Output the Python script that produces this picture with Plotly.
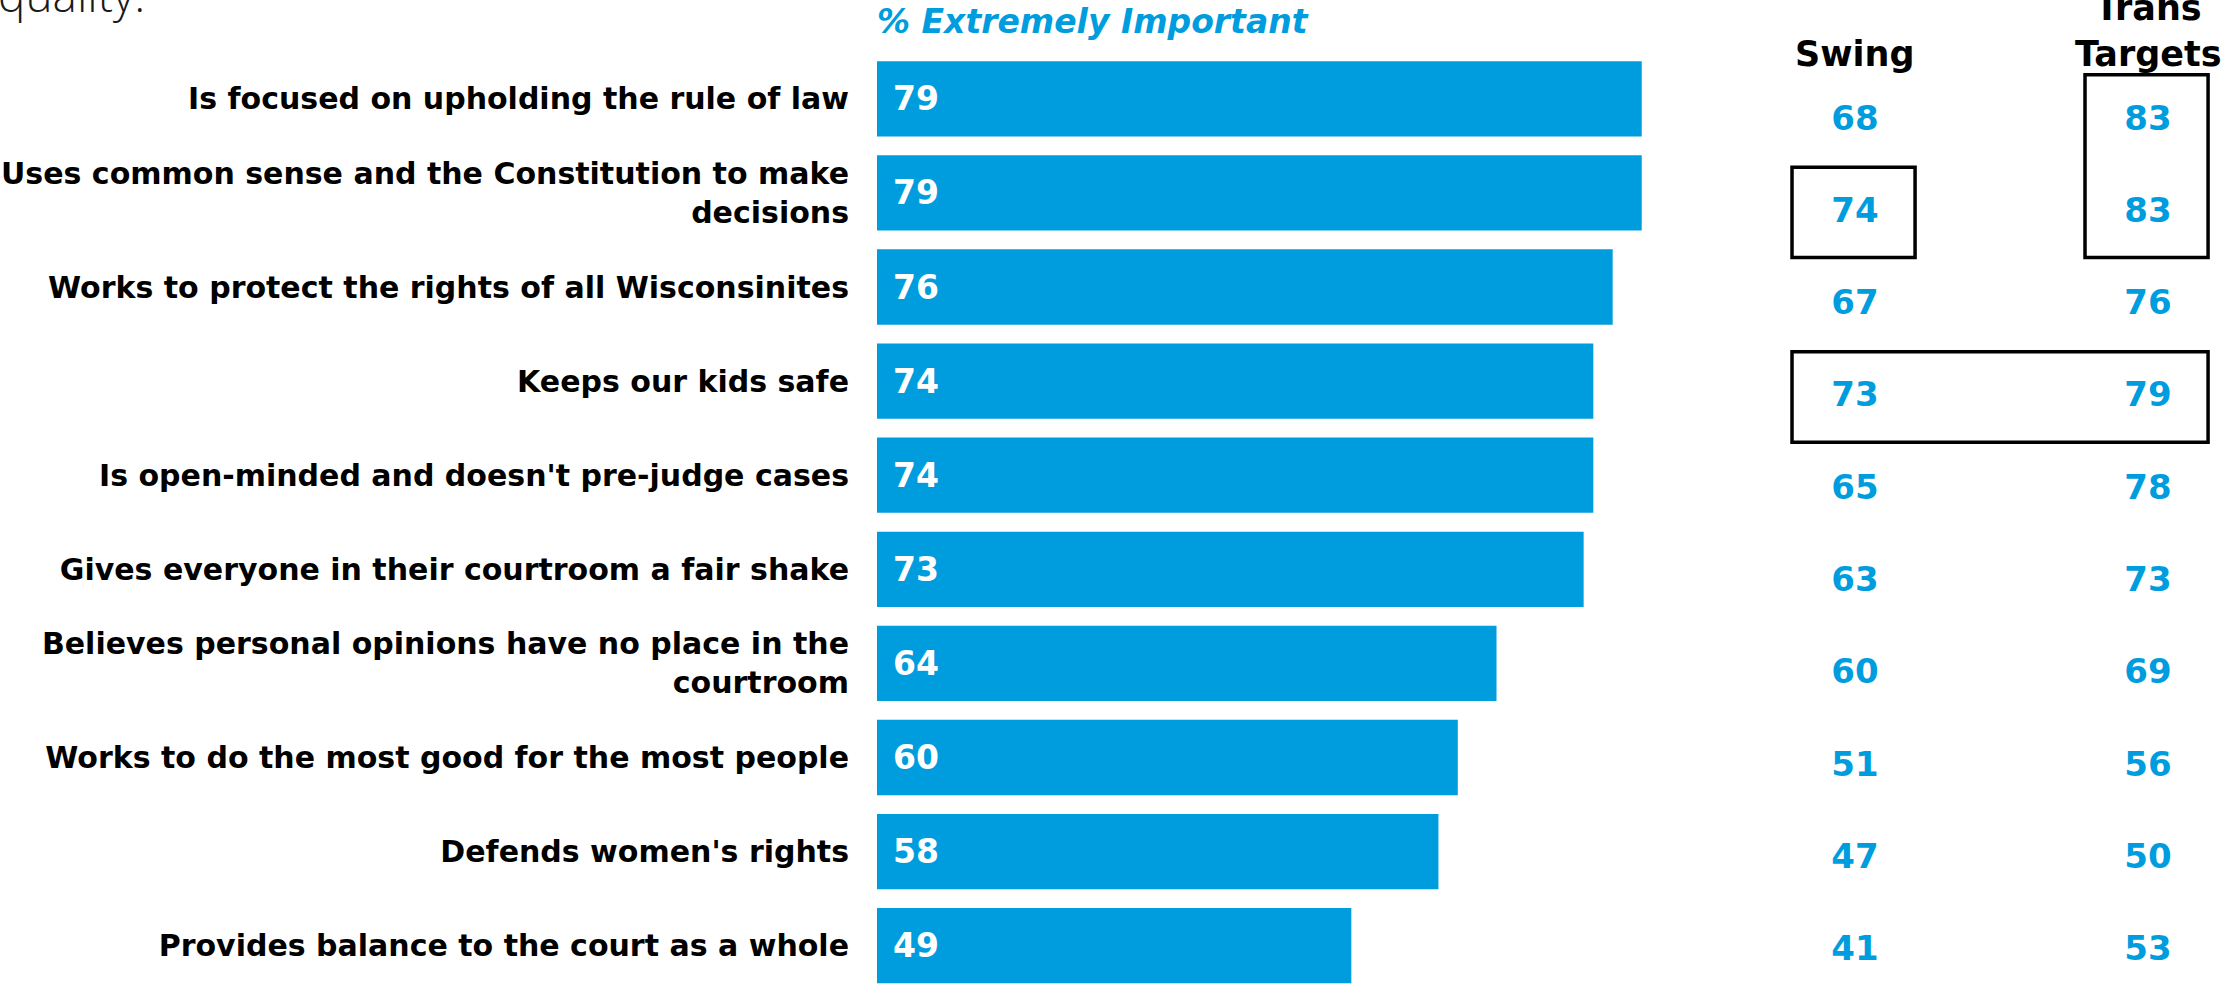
import plotly.graph_objects as go

# ---------------- data ----------------
categories = [
    "Is focused on upholding the rule of law",
    "Uses common sense and the Constitution to make<br>decisions",
    "Works to protect the rights of all Wisconsinites",
    "Keeps our kids safe",
    "Is open-minded and doesn't pre-judge cases",
    "Gives everyone in their courtroom a fair shake",
    "Believes personal opinions have no place in the<br>courtroom",
    "Works to do the most good for the most people",
    "Defends women's rights",
    "Provides balance to the court as a whole",
]
extremely_important = [79, 79, 76, 74, 74, 73, 64, 60, 58, 49]
swing = [68, 74, 67, 73, 65, 63, 60, 51, 47, 41]
trans_targets = [83, 83, 76, 79, 78, 73, 69, 56, 50, 53]
column_labels = ["Swing", "Trans<br>Targets"]
bar_header = "% Extremely Important"
cut_off_text = "quality:"
# highlighted cells: (first column, last column, first row, last row)
highlight_boxes = [(0, 0, 1, 1), (1, 1, 0, 1), (0, 1, 3, 3)]

# ---------------- style ----------------
W, H = 2228, 987
BLUE = "#009DDE"
FONT = "DejaVu Sans"
rows = list(range(len(categories)))

fig = go.Figure()

fig.add_trace(go.Bar(
    x=extremely_important, y=rows, orientation="h", width=0.8,
    marker=dict(color=BLUE, line=dict(width=0)),
    hoverinfo="skip", xaxis="x", yaxis="y",
))

# right-hand comparison columns
for ci, vals in enumerate([swing, trans_targets]):
    fig.add_trace(go.Scatter(
        x=[ci] * len(vals), y=rows, mode="text",
        text=[str(v) for v in vals], textposition="middle center",
        textfont=dict(family=FONT, size=34, color=BLUE, weight=700),
        hoverinfo="skip", xaxis="x2", yaxis="y2",
    ))

annotations = []
# value labels inside bars
for r, v in zip(rows, extremely_important):
    annotations.append(dict(
        x=0, y=r, xref="x", yref="y", text=str(v), showarrow=False,
        xanchor="left", yanchor="middle", xshift=14,
        font=dict(family=FONT, size=33, color="white", weight=700),
    ))
# column headers
for ci, lab in enumerate(column_labels):
    annotations.append(dict(
        x=ci, y=1 - 76 / H, xref="x2", yref="paper", text=lab, showarrow=False,
        xanchor="center", yanchor="bottom",
        font=dict(family=FONT, size=35, color="black", weight=700),
    ))
# bar header
annotations.append(dict(
    x=0, y=1 - 22 / H, xref="x", yref="paper", text="<i>" + bar_header + "</i>",
    showarrow=False, xanchor="left", yanchor="middle", xshift=-2,
    font=dict(family=FONT, size=33, color=BLUE, weight=700, style="italic"),
))
# cut-off subtitle at the very top
annotations.append(dict(
    x=0, y=1 - 27 / H, xref="paper", yref="paper", text=cut_off_text,
    showarrow=False, xanchor="left", yanchor="bottom", xshift=-4,
    font=dict(family="Open Sans", size=46, color="#1a1a1a", weight=300),
))

shapes = []
for c0, c1, r0, r1 in highlight_boxes:
    shapes.append(dict(
        type="rect", xref="x2", yref="y2",
        x0=c0 - 0.215, x1=c1 + 0.205, y0=r0 - 0.5, y1=r1 + 0.48,
        line=dict(color="black", width=3.5), fillcolor="rgba(0,0,0,0)",
    ))

px_per_unit = 9.68
x_left, x_right = 877, 1700
col_center0, col_pitch = 1855, 293
col_row0, col_row_pitch = 121, 92.3

fig.update_layout(
    width=W, height=H,
    margin=dict(l=0, r=0, t=0, b=0),
    paper_bgcolor="white", plot_bgcolor="white",
    showlegend=False,
    xaxis=dict(domain=[x_left / W, x_right / W],
               range=[0, (x_right - x_left) / px_per_unit],
               visible=False, fixedrange=True),
    yaxis=dict(range=[(H - 98.8) / 94.1, -98.8 / 94.1],
               tickmode="array", tickvals=rows, ticktext=categories,
               tickfont=dict(family=FONT, size=30, color="black", weight=700),
               ticklabelstandoff=27, showgrid=False, zeroline=False,
               showline=False, ticks="", anchor="x"),
    xaxis2=dict(domain=[(col_center0 - col_pitch / 2) / W, 1],
                range=[-0.5, (W - col_center0) / col_pitch],
                visible=False, anchor="y2"),
    yaxis2=dict(range=[(H - col_row0) / col_row_pitch, -col_row0 / col_row_pitch],
                visible=False, anchor="x2"),
    annotations=annotations,
    shapes=shapes,
)

fig.write_html("out.html")
